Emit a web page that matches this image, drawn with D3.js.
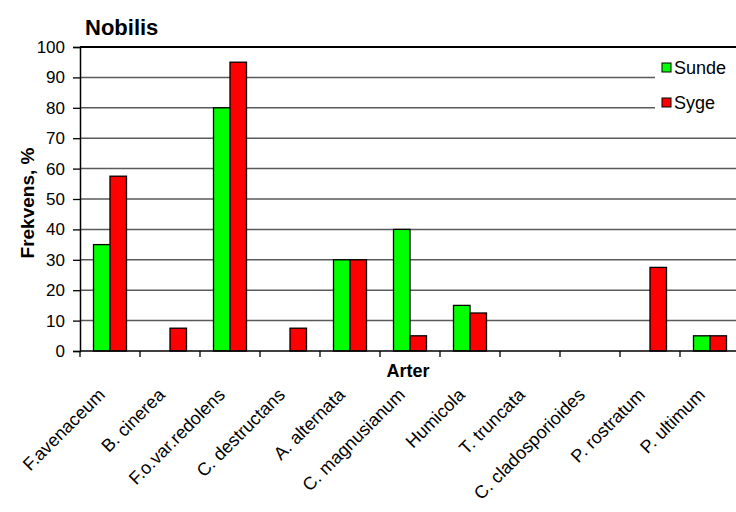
<!DOCTYPE html>
<html>
<head>
<meta charset="utf-8">
<script src="https://cdn.jsdelivr.net/npm/d3@7"></script>
<style>
  html, body { margin: 0; padding: 0; background: #fff; }
  svg { display: block; font-family: Arial, "Liberation Sans", sans-serif; }
</style>
</head>
<body>
<svg id="chart" width="736" height="512"></svg>
<script>
const categories = ["F.avenaceum", "B. cinerea", "F.o.var.redolens", "C. destructans", "A. alternata",
  "C. magnusianum", "Humicola", "T. truncata", "C. cladosporioides", "P. rostratum", "P. ultimum"];
const seriesNames = ["Sunde", "Syge"];
const sunde = [35, 0, 80, 0, 30, 40, 15, 0, 0, 0, 5];
const syge = [57.5, 7.5, 95, 7.5, 30, 5, 12.5, 0, 0, 27.5, 5];
const yTicks = [0, 10, 20, 30, 40, 50, 60, 70, 80, 90, 100];
const colors = ["#00ff00", "#ff0000"];

const svg = d3.select("#chart");
const pLeft = 80, pRight = 740, pTop = 47, pBottom = 351;

const x = d3.scaleBand().domain(categories).range([pLeft, pRight]).padding(0);
const y = d3.scaleLinear().domain([0, 100]).range([pBottom, pTop]);
const groupW = 33;
const xs = d3.scaleBand().domain(seriesNames).range([0, groupW]);

// gridlines
svg.append("g").selectAll("line").data(yTicks.filter(d => d > 0)).join("line")
  .attr("x1", pLeft).attr("x2", pRight)
  .attr("y1", d => y(d)).attr("y2", d => y(d))
  .attr("stroke", d => d === 100 ? "#000" : "#5a5a5a")
  .attr("stroke-width", d => d === 100 ? 2 : 1.5);

// bars
const rows = categories.map((c, i) => ({ cat: c, vals: [sunde[i], syge[i]] }));
const g = svg.append("g");
rows.forEach(r => {
  r.vals.forEach((v, j) => {
    if (v <= 0) return;
    g.append("rect")
      .attr("x", x(r.cat) + (x.bandwidth() - groupW) / 2 + xs(seriesNames[j]))
      .attr("y", y(v))
      .attr("width", xs.bandwidth())
      .attr("height", y(0) - y(v))
      .attr("fill", colors[j])
      .attr("stroke", "#000")
      .attr("stroke-width", 1.3);
  });
});

// y axis
const yAxis = d3.axisLeft(y).tickValues(yTicks).tickSize(7).tickPadding(8);
const ya = svg.append("g").attr("transform", `translate(${pLeft},0)`).call(yAxis);
ya.select(".domain").attr("stroke", "#000").attr("stroke-width", 1.5);
ya.selectAll(".tick line").attr("stroke", "#000").attr("stroke-width", 1.3);
ya.selectAll(".tick text").attr("font-size", 17).attr("fill", "#000")
  .attr("font-family", "Arial, 'Liberation Sans', sans-serif");

// x axis line + ticks at band boundaries
svg.append("line").attr("x1", pLeft).attr("x2", pRight).attr("y1", pBottom).attr("y2", pBottom)
  .attr("stroke", "#000").attr("stroke-width", 1.5);
svg.append("g").selectAll("line").data(categories).join("line")
  .attr("x1", d => x(d)).attr("x2", d => x(d))
  .attr("y1", pBottom).attr("y2", pBottom + 6)
  .attr("stroke", "#000").attr("stroke-width", 1.3);

// x labels rotated
svg.append("g").selectAll("text").data(categories).join("text")
  .attr("transform", d => `translate(${x(d) + x.bandwidth() / 2 - 4},${pBottom + 45}) rotate(-45)`)
  .attr("text-anchor", "end")
  .attr("font-size", 18)
  .attr("fill", "#000")
  .text(d => d);

// titles
svg.append("text").attr("x", 85).attr("y", 35).attr("font-size", 22).attr("font-weight", "bold")
  .text("Nobilis");
svg.append("text").attr("x", 408).attr("y", 377).attr("text-anchor", "middle")
  .attr("font-size", 18).attr("font-weight", "bold").text("Arter");
svg.append("text").attr("transform", "translate(34,203) rotate(-90)").attr("text-anchor", "middle")
  .attr("font-size", 19).attr("font-weight", "bold").text("Frekvens, %");

// legend
const lg = svg.append("g");
lg.append("rect").attr("x", 655).attr("y", 55).attr("width", 90).attr("height", 62).attr("fill", "#fff");
seriesNames.forEach((s, i) => {
  const yy = 63 + i * 35;
  lg.append("rect").attr("x", 662).attr("y", yy).attr("width", 9).attr("height", 9)
    .attr("fill", colors[i]).attr("stroke", "#000").attr("stroke-width", 1);
  lg.append("text").attr("x", 674).attr("y", yy + 10.5).attr("font-size", 18).text(s);
});
</script>
</body>
</html>
